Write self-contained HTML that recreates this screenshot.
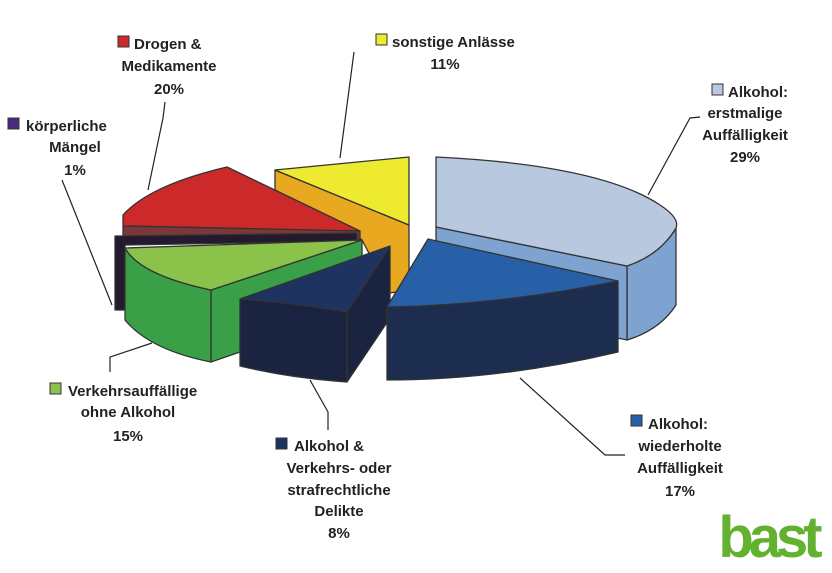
<!DOCTYPE html>
<html><head><meta charset="utf-8"><style>
html,body{margin:0;padding:0;background:#fff}
svg{display:block}
text{font-family:"Liberation Sans",Arial,sans-serif;font-weight:bold;font-size:15px;fill:#222}
</style></head><body>
<svg width="832" height="573" viewBox="0 0 832 573" xmlns="http://www.w3.org/2000/svg">
<g stroke="#333" stroke-width="1.3" stroke-linejoin="round">
<!-- orange/yellow -->
<polygon points="275,170 409,225 409,290 390,293 362,240 275,190" fill="#e8a820"/>
<polygon points="275,170 409,157 409,225" fill="#eeea30"/>
<!-- red -->
<path d="M123,215 Q150,185 227,167 L360,231 L123,226 Z" fill="#cc2a2a"/>
<polygon points="123,226 360,231 360,240 123,237" fill="#7a3838"/>
<!-- purple thin -->
<polygon points="115,236 357,233 357,241 125,245 125,310 115,310" fill="#241a2e"/>
<!-- light blue -->
<path d="M627,266 Q668,245 676,228 L676,305 Q660,330 627,340 Z" fill="#7fa3d0"/>
<polygon points="436,227 627,266 627,340 436,300" fill="#7fa3d0"/>
<path d="M436,157 Q600,165 660,205 Q680,218 676,228 Q660,255 627,266 L436,227 Z" fill="#b8c9df"/>
<!-- green -->
<polygon points="211,290 362,240 362,310 211,362" fill="#3aa048"/>
<path d="M125,248 Q140,275 211,290 L211,362 Q150,350 125,320 Z" fill="#3aa048"/>
<path d="M125,248 L362,240 L211,290 Q140,275 125,248 Z" fill="#8bc34a"/>
<!-- navy -->
<polygon points="347,312 390,246 390,318 347,382" fill="#1a2440"/>
<path d="M240,299 Q290,302 347,312 L347,382 Q290,378 240,366 Z" fill="#1a2440"/>
<path d="M390,246 L347,312 Q290,302 240,299 Z" fill="#1e3360"/>
<!-- blue -->
<path d="M387,307 Q500,305 618,281 L618,352 Q500,380 387,380 Z" fill="#1c2d50"/>
<path d="M428,239 L618,281 Q500,305 387,307 Z" fill="#2760a6"/>
</g>
<g stroke="#222" stroke-width="1.2" fill="none">
<polyline points="165,102 163,118 148,190"/>
<polyline points="354,52 340,158"/>
<polyline points="700,117 690,118 648,195"/>
<polyline points="62,180 112,305"/>
<polyline points="110,372 110,357 152,343"/>
<polyline points="310,380 328,412 328,430"/>
<polyline points="520,378 605,455 625,455"/>
</g>
<g stroke="#333" stroke-width="1">
<rect x="118" y="36" width="11" height="11" fill="#cc2a2a"/>
<rect x="376" y="34" width="11" height="11" fill="#eeea30"/>
<rect x="712" y="84" width="11" height="11" fill="#b8c9df"/>
<rect x="8" y="118" width="11" height="11" fill="#4a2a80"/>
<rect x="50" y="383" width="11" height="11" fill="#8bc34a"/>
<rect x="276" y="438" width="11" height="11" fill="#1e3360"/>
<rect x="631" y="415" width="11" height="11" fill="#2760a6"/>
</g>
<text x="134" y="49">Drogen &amp;</text>
<text x="169" y="71" text-anchor="middle">Medikamente</text>
<text x="169" y="94" text-anchor="middle">20%</text>
<text x="392" y="47">sonstige Anlässe</text>
<text x="445" y="69" text-anchor="middle">11%</text>
<text x="728" y="97">Alkohol:</text>
<text x="745" y="118" text-anchor="middle">erstmalige</text>
<text x="745" y="140" text-anchor="middle">Auffälligkeit</text>
<text x="745" y="162" text-anchor="middle">29%</text>
<text x="26" y="131">körperliche</text>
<text x="75" y="152" text-anchor="middle">Mängel</text>
<text x="75" y="175" text-anchor="middle">1%</text>
<text x="68" y="396">Verkehrsauffällige</text>
<text x="128" y="417" text-anchor="middle">ohne Alkohol</text>
<text x="128" y="441" text-anchor="middle">15%</text>
<text x="294" y="451">Alkohol &amp;</text>
<text x="339" y="473" text-anchor="middle">Verkehrs- oder</text>
<text x="339" y="495" text-anchor="middle">strafrechtliche</text>
<text x="339" y="516" text-anchor="middle">Delikte</text>
<text x="339" y="538" text-anchor="middle">8%</text>
<text x="648" y="429">Alkohol:</text>
<text x="680" y="451" text-anchor="middle">wiederholte</text>
<text x="680" y="473" text-anchor="middle">Auffälligkeit</text>
<text x="680" y="496" text-anchor="middle">17%</text>
<text x="768" y="557" text-anchor="middle" style="font-size:58px;fill:#62b22f;letter-spacing:-5px">bast</text>
</svg>
</body></html>
